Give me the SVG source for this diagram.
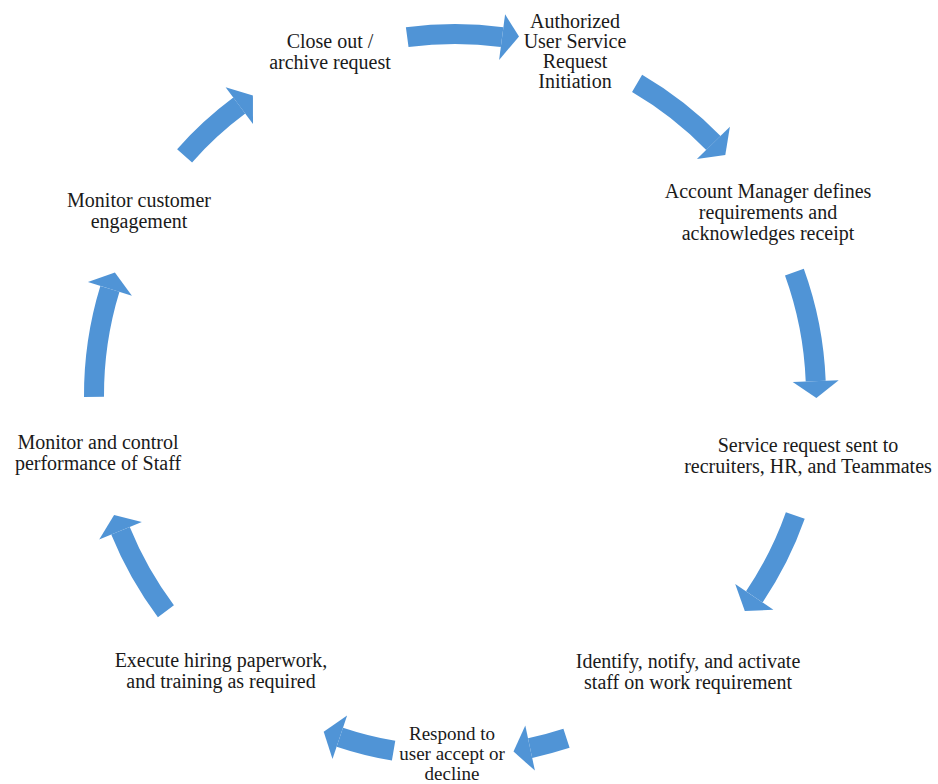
<svg xmlns="http://www.w3.org/2000/svg" width="938" height="784" viewBox="0 0 938 784">
  <style>
    .lbl { font-family: "Liberation Serif", "Times New Roman", serif; font-size: 20px; fill: #1a1a1a; text-anchor: middle; }
    .sm { font-size: 19px; }
    .shaft { fill: none; stroke: #5094d6; stroke-width: 20; stroke-linecap: butt; }
    .head { fill: #5094d6; stroke: none; }
  </style>
  <rect x="0" y="0" width="938" height="784" fill="#ffffff"/>

  <g id="connectors">
    <g id="arrow-1">
      <path class="shaft" d="M407.2,37.2 A361,361 0 0 1 502.1,37.1"/>
      <polygon class="head" points="505.1,14.3 519,36.5 499.1,59.9"/>
    </g>
    <g id="arrow-2">
      <path class="shaft" d="M637.1,83.3 A361,361 0 0 1 713.4,142.9"/>
      <polygon class="head" points="729.9,126.8 725.3,155.1 696.9,159.0"/>
    </g>
    <g id="arrow-3">
      <path class="shaft" d="M794.4,272.1 A361,361 0 0 1 815.7,381.1"/>
      <polygon class="head" points="838.7,380.2 816.4,398.1 792.7,382.0"/>
    </g>
    <g id="arrow-4">
      <path class="shaft" d="M795.3,515.5 A361,361 0 0 1 754.3,596.9"/>
      <polygon class="head" points="773.4,609.8 744.8,611.0 735.2,584.0"/>
    </g>
    <g id="arrow-5">
      <path class="shaft" d="M566.5,738.3 A361,361 0 0 1 530.1,748.1"/>
      <polygon class="head" points="534.9,770.6 513.5,751.6 525.3,725.6"/>
    </g>
    <g id="arrow-6">
      <path class="shaft" d="M393.6,750.7 A361,361 0 0 1 339.8,737.2"/>
      <polygon class="head" points="332.5,759.0 323.7,731.8 347.1,715.4"/>
    </g>
    <g id="arrow-7">
      <path class="shaft" d="M165.9,611.2 A361,361 0 0 1 120.5,530.8"/>
      <polygon class="head" points="99.2,539.5 114.1,515.0 141.8,522.1"/>
    </g>
    <g id="arrow-8">
      <path class="shaft" d="M94.0,396.9 A361,361 0 0 1 109.9,288.9"/>
      <polygon class="head" points="87.9,282.1 114.9,272.6 131.9,295.7"/>
    </g>
    <g id="arrow-9">
      <path class="shaft" d="M184.6,155.8 A361,361 0 0 1 239.3,105.6"/>
      <polygon class="head" points="225.6,87.2 252.9,95.4 253.0,124.0"/>
    </g>
  </g>

  <g id="node-initiation">
    <text class="lbl" x="575" y="28">Authorized</text>
    <text class="lbl" x="575" y="48">User Service</text>
    <text class="lbl" x="575" y="68">Request</text>
    <text class="lbl" x="575" y="88">Initiation</text>
  </g>
  <g id="node-account-manager">
    <text class="lbl" x="768" y="198">Account Manager defines</text>
    <text class="lbl" x="768" y="219">requirements and</text>
    <text class="lbl" x="768" y="240">acknowledges receipt</text>
  </g>
  <g id="node-service-request">
    <text class="lbl" x="808" y="452">Service request sent to</text>
    <text class="lbl" x="808" y="473">recruiters, HR, and Teammates</text>
  </g>
  <g id="node-identify">
    <text class="lbl" x="688" y="668">Identify, notify, and activate</text>
    <text class="lbl" x="688" y="689">staff on work requirement</text>
  </g>
  <g id="node-respond">
    <text class="lbl sm" x="452" y="740">Respond to</text>
    <text class="lbl sm" x="452" y="760">user accept or</text>
    <text class="lbl sm" x="452" y="780">decline</text>
  </g>
  <g id="node-execute">
    <text class="lbl" x="221" y="667">Execute hiring paperwork,</text>
    <text class="lbl" x="221" y="688">and training as required</text>
  </g>
  <g id="node-monitor-staff">
    <text class="lbl" x="98" y="449">Monitor and control</text>
    <text class="lbl" x="98" y="470">performance of Staff</text>
  </g>
  <g id="node-monitor-customer">
    <text class="lbl" x="139" y="207">Monitor customer</text>
    <text class="lbl" x="139" y="228">engagement</text>
  </g>
  <g id="node-close-out">
    <text class="lbl" x="330" y="48">Close out /</text>
    <text class="lbl" x="330" y="69">archive request</text>
  </g>
</svg>
